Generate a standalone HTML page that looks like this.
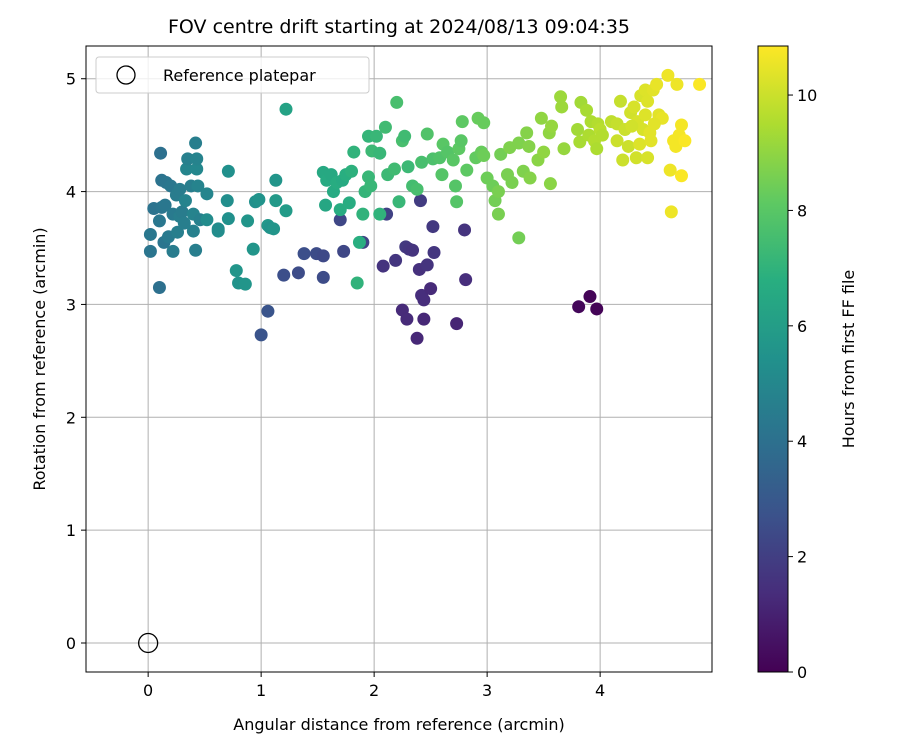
<!DOCTYPE html>
<html><head><meta charset="utf-8"><style>
body{margin:0;background:#fff;}
text{font-family:"DejaVu Sans","Liberation Sans",sans-serif;fill:#000;}
</style></head><body>
<svg id="chart" width="900" height="750" viewBox="0 0 900 750" xmlns="http://www.w3.org/2000/svg">
<defs>
<linearGradient id="vir" x1="0" y1="1" x2="0" y2="0">
<stop offset="0" stop-color="#440154"/><stop offset="0.125" stop-color="#472d7b"/><stop offset="0.25" stop-color="#3b528b"/><stop offset="0.375" stop-color="#2c728e"/><stop offset="0.5" stop-color="#21918c"/><stop offset="0.625" stop-color="#28ae80"/><stop offset="0.75" stop-color="#5ec962"/><stop offset="0.875" stop-color="#addc30"/><stop offset="1" stop-color="#fde725"/>
</linearGradient>
<clipPath id="clip"><rect x="86" y="46" width="626" height="626"/></clipPath>
</defs>
<text x="399" y="33" text-anchor="middle" font-size="19">FOV centre drift starting at 2024/08/13 09:04:35</text>
<g id="grid"></g>
<g id="pts" clip-path="url(#clip)"></g>
<rect x="86" y="46" width="626" height="626" fill="none" stroke="#000" stroke-width="1"/>
<g id="ticks"></g>
<text x="399" y="730" text-anchor="middle" font-size="16">Angular distance from reference (arcmin)</text>
<text transform="translate(45,359) rotate(-90)" text-anchor="middle" font-size="16">Rotation from reference (arcmin)</text>
<g>
<rect x="96" y="57" width="273" height="36" rx="3" fill="#fff" fill-opacity="0.8" stroke="#ccc"/>
<circle cx="126" cy="75" r="9" fill="none" stroke="#000" stroke-width="1.3"/>
<text x="163" y="81" font-size="16">Reference platepar</text>
</g>
<rect x="758" y="46" width="30" height="626" fill="url(#vir)" stroke="#000"/>
<g id="cbt"></g>
<text transform="translate(854,359) rotate(-90)" text-anchor="middle" font-size="16">Hours from first FF file</text>
</svg>
<script>
const xTicks=[0,1,2,3,4];
const yTicks=[0,1,2,3,4,5];
const cTicks=[0,2,4,6,8,10];
const xs=[2.08,2.19,2.28,2.31,2.34,2.40,2.47,2.53,2.52,2.41,2.25,2.29,2.42,2.44,2.50,2.38,2.44,2.73,2.80,2.81,3.81,3.91,3.97,1.00,1.06,1.20,1.33,1.38,1.49,1.55,1.55,1.70,1.73,1.90,2.11,
0.02,0.02,0.05,0.10,0.11,0.12,0.10,0.12,0.15,0.16,0.14,0.18,0.20,0.22,0.22,0.25,0.26,0.28,0.28,0.30,0.32,0.33,0.34,0.35,0.38,0.40,0.40,0.42,0.42,0.43,0.43,0.44,0.46,0.52,0.52,0.62,0.62,0.70,0.71,0.71,0.78,0.80,0.86,0.88,0.93,0.95,0.98,1.06,1.08,1.11,1.13,1.13,1.22,1.22,
1.55,1.58,1.57,1.62,1.64,1.67,1.70,1.72,1.75,1.78,1.80,1.82,1.85,1.87,1.90,1.92,1.95,1.95,1.97,1.98,2.02,2.05,2.05,2.10,2.12,2.20,2.18,2.22,2.25,2.27,2.30,2.34,2.38,2.42,2.47,2.52,2.58,2.60,2.61,2.65,2.70,2.72,2.73,2.75,2.77,2.78,2.82,2.90,2.92,2.95,2.97,2.97,3.00,3.05,3.07,3.10,3.10,3.12,3.18,3.20,3.22,3.28,3.28,3.32,3.35,3.37,3.38,3.45,3.48,3.50,3.55,3.56,3.57,3.65,3.66,3.68,3.80,3.82,3.83,3.88,3.90,3.92,3.95,3.97,3.98,4.00,4.02,
4.10,4.15,4.18,4.20,4.22,4.25,4.27,4.30,4.32,4.33,4.35,4.36,4.38,4.40,4.40,4.42,4.42,4.44,4.45,4.47,4.50,4.52,4.55,4.60,4.62,4.63,4.65,4.67,4.68,4.70,4.72,4.72,4.75,4.88,4.15,4.28,4.48];
const ys=[3.34,3.39,3.51,3.49,3.48,3.31,3.35,3.46,3.69,3.92,2.95,2.87,3.08,3.04,3.14,2.70,2.87,2.83,3.66,3.22,2.98,3.07,2.96,2.73,2.94,3.26,3.28,3.45,3.45,3.43,3.24,3.75,3.47,3.55,3.80,
3.47,3.62,3.85,3.15,4.34,4.10,3.74,3.86,3.88,4.08,3.55,3.60,4.05,3.47,3.80,3.97,3.64,4.02,3.78,3.82,3.72,3.92,4.20,4.29,4.05,3.80,3.65,3.48,4.43,4.20,4.29,4.05,3.75,3.75,3.98,3.65,3.67,3.92,4.18,3.76,3.30,3.19,3.18,3.74,3.49,3.91,3.93,3.70,3.68,3.67,4.10,3.92,4.73,3.83,
4.17,4.10,3.88,4.15,4.00,4.08,3.84,4.10,4.15,3.90,4.18,4.35,3.19,3.55,3.80,4.00,4.13,4.49,4.05,4.36,4.49,3.80,4.34,4.57,4.15,4.79,4.20,3.91,4.45,4.49,4.22,4.05,4.02,4.26,4.51,4.29,4.30,4.15,4.42,4.35,4.28,4.05,3.91,4.38,4.45,4.62,4.19,4.30,4.65,4.35,4.32,4.61,4.12,4.05,3.92,4.00,3.80,4.33,4.15,4.39,4.08,4.43,3.59,4.18,4.52,4.40,4.12,4.28,4.65,4.35,4.52,4.07,4.58,4.84,4.75,4.38,4.55,4.44,4.79,4.72,4.50,4.62,4.45,4.38,4.60,4.55,4.50,
4.62,4.60,4.80,4.28,4.55,4.40,4.70,4.75,4.30,4.62,4.42,4.85,4.55,4.90,4.68,4.30,4.80,4.52,4.45,4.90,4.95,4.68,4.65,5.03,4.19,3.82,4.45,4.40,4.95,4.50,4.14,4.59,4.45,4.95,4.45,4.58,4.60];
const hrs=[1.6,1.7,1.8,1.7,1.6,1.5,1.6,1.7,1.8,1.9,1.3,1.3,1.4,1.4,1.3,1.2,1.2,1.1,1.6,1.4,0.2,0.1,0.1,2.8,2.8,2.6,2.5,2.6,2.5,2.4,2.5,2.3,2.3,2.2,2.1,
4.2,4.3,4.1,4.0,4.0,4.1,4.3,4.2,4.3,4.2,4.2,4.4,4.3,4.5,4.4,4.5,4.6,4.5,4.6,4.5,4.6,4.8,4.9,4.7,4.6,4.8,4.7,4.6,4.6,5.0,4.8,4.8,4.7,5.2,4.9,5.3,5.2,5.3,5.4,5.4,5.6,5.5,5.6,5.6,5.6,5.4,5.5,5.7,5.5,5.6,5.6,5.8,6.2,5.9,
6.5,6.6,6.4,6.5,6.6,6.7,6.7,6.6,6.8,6.7,6.9,7.0,7.0,6.8,7.0,7.1,7.2,7.1,7.2,7.3,7.2,7.0,7.2,7.4,7.3,7.6,7.4,7.2,7.6,7.4,7.3,7.5,7.6,7.6,7.8,7.7,7.8,7.9,8.0,7.9,8.0,7.9,7.9,8.1,8.0,8.1,8.1,8.2,8.3,8.3,8.4,8.3,8.4,8.4,8.5,8.6,8.6,8.5,8.6,8.7,8.6,8.7,8.5,8.7,8.8,8.8,8.8,8.9,9.0,9.0,9.0,8.9,9.1,9.2,9.2,9.1,9.3,9.4,9.3,9.4,9.5,9.5,9.6,9.5,9.6,9.7,9.6,
9.8,9.9,9.9,10.0,10.0,10.0,10.1,10.2,10.1,10.2,10.3,10.2,10.2,10.3,10.3,10.2,10.3,10.4,10.4,10.4,10.5,10.4,10.5,10.6,10.6,10.6,10.7,10.7,10.6,10.7,10.8,10.7,10.8,10.8,10.0,10.1,10.4];
const X0=-0.55,X1=4.99,Y0=-0.257,Y1=5.29,C1=10.85;
const px=v=>86+(v-X0)/(X1-X0)*626;
const py=v=>672-(v-Y0)/(Y1-Y0)*626;
const pc=v=>672-v/C1*626;
const VIR=[[68,1,84],[71,45,123],[59,82,139],[44,114,142],[33,145,140],[40,174,128],[94,201,98],[173,220,48],[253,231,37]];
function vir(t){t=Math.max(0,Math.min(1,t))*8;const i=Math.min(7,Math.floor(t)),f=t-i;const a=VIR[i],b=VIR[i+1];return 'rgb('+a.map((v,k)=>Math.round(v+(b[k]-v)*f)).join(',')+')';}
const NS='http://www.w3.org/2000/svg';
function mk(tag,attrs,parent){const e=document.createElementNS(NS,tag);for(const k in attrs)e.setAttribute(k,attrs[k]);parent.appendChild(e);return e;}
const grid=document.getElementById('grid'),ticks=document.getElementById('ticks'),pts=document.getElementById('pts'),cbt=document.getElementById('cbt');
xTicks.forEach(v=>{const x=px(v);
const l=mk('line',{x1:x,x2:x,y1:46,y2:672,stroke:'#b0b0b0','stroke-width':1},grid);


mk('line',{x1:x,x2:x,y1:672,y2:677,stroke:'#000'},ticks);
const t=mk('text',{x:x,y:696,'text-anchor':'middle','font-size':16},ticks);t.textContent=v;

});
yTicks.forEach(v=>{const y=py(v);
const l=mk('line',{x1:86,x2:712,y1:y,y2:y,stroke:'#b0b0b0','stroke-width':1},grid);


mk('line',{x1:81,x2:86,y1:y,y2:y,stroke:'#000'},ticks);
const t=mk('text',{x:76,y:y+6,'text-anchor':'end','font-size':16},ticks);t.textContent=v;

});
cTicks.forEach(v=>{const y=pc(v);
mk('line',{x1:788,x2:793,y1:y,y2:y,stroke:'#000'},cbt);
const t=mk('text',{x:797,y:y+6,'font-size':16},cbt);t.textContent=v;

});
xs.forEach((v,i)=>{const c=mk('circle',{cx:px(v),cy:py(ys[i]),r:6.5,fill:vir(hrs[i]/C1)},pts);

});
const ref=mk('circle',{cx:px(0),cy:py(0),r:9.5,fill:'none',stroke:'#000','stroke-width':1.3},pts);


</script>
</body></html>
